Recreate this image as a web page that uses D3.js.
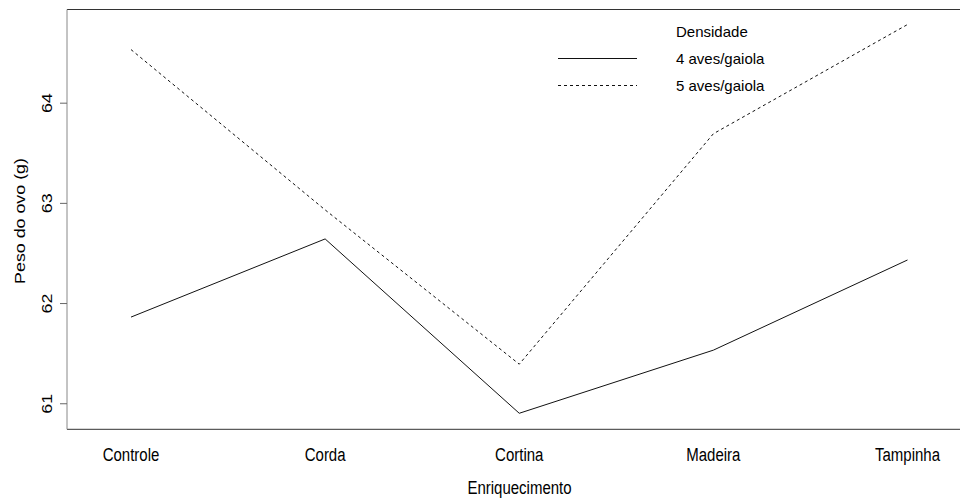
<!DOCTYPE html>
<html>
<head>
<meta charset="utf-8">
<script src="https://cdn.jsdelivr.net/npm/d3@7"></script>
<style>
  body { margin: 0; background: #fff; }
  svg { display: block; }
  text { font-family: "Liberation Sans", Arial, sans-serif; fill: #000; }
</style>
</head>
<body>
<svg id="chart" width="960" height="500"></svg>
<script>
// Mean egg weight by enrichment type and stocking density
const categories = ["Controle", "Corda", "Cortina", "Madeira", "Tampinha"];
const seriesNames = ["4 aves/gaiola", "5 aves/gaiola"];
const values4 = [61.86, 62.64, 60.90, 61.53, 62.43];
const values5 = [64.53, 62.93, 61.39, 63.69, 64.78];
const yTicks = [61, 62, 63, 64];
const legendTitle = "Densidade";
const xTitle = "Enriquecimento";
const yTitle = "Peso do ovo (g)";

const svg = d3.select("#chart");
const plot = { left: 67, top: 9.5, right: 961, bottom: 429.3 };

const x = d3.scalePoint().domain(categories).range([131, 907.5]);
const y = d3.scaleLinear().domain([60.74, 64.93]).range([plot.bottom, plot.top]);

// frame
svg.append("line").attr("x1", plot.left).attr("x2", plot.right)
  .attr("y1", plot.top).attr("y2", plot.top).attr("stroke", "#333");
svg.append("line").attr("x1", plot.left).attr("x2", plot.right)
  .attr("y1", plot.bottom).attr("y2", plot.bottom).attr("stroke", "#333");
svg.append("line").attr("x1", plot.left).attr("x2", plot.left)
  .attr("y1", plot.top).attr("y2", plot.bottom).attr("stroke", "#888");

// y axis
const yAxis = d3.axisLeft(y).tickValues(yTicks).tickSize(7).tickFormat(d3.format("d"));
const gy = svg.append("g").attr("transform", `translate(${plot.left},0)`).call(yAxis);
gy.select(".domain").remove();
gy.selectAll(".tick line").attr("stroke", "#666");
gy.selectAll(".tick text")
  .attr("x", null).attr("dy", null)
  .attr("text-anchor", "middle")
  .attr("font-size", 15)
  .attr("transform", "translate(-15.3,0) rotate(-90) scale(1.19,1)");

// x axis labels
svg.append("g").selectAll("text").data(categories).join("text")
  .attr("text-anchor", "middle").attr("font-size", 15)
  .attr("transform", d => `translate(${x(d)},461) scale(1,1.19)`)
  .text(d => d);

// axis titles
svg.append("text").attr("text-anchor", "middle").attr("font-size", 15)
  .attr("transform", `translate(519.5,494) scale(1,1.19)`).text(xTitle);
svg.append("text").attr("text-anchor", "middle").attr("font-size", 15)
  .attr("transform", `translate(25,221) rotate(-90) scale(1.19,1)`).text(yTitle);

// series lines
const line = d3.line().x((d, i) => x(categories[i])).y(d => y(d));
const series = [
  { name: seriesNames[0], values: values4, dash: null },
  { name: seriesNames[1], values: values5, dash: "3,3" }
];
svg.append("g").selectAll("path").data(series).join("path")
  .attr("d", d => line(d.values))
  .attr("fill", "none")
  .attr("stroke", "#111")
  .attr("stroke-width", 1)
  .attr("stroke-dasharray", d => d.dash);

// legend
const lg = svg.append("g");
lg.append("text").attr("x", 676).attr("y", 37.3).attr("font-size", 15).text(legendTitle);
series.forEach((s, i) => {
  const yy = 58.5 + i * 27;
  lg.append("line").attr("x1", 558).attr("x2", 637).attr("y1", yy).attr("y2", yy)
    .attr("stroke", "#111").attr("stroke-dasharray", s.dash);
  lg.append("text").attr("x", 676).attr("y", yy + 5.5).attr("font-size", 15).text(s.name);
});
</script>
</body>
</html>
